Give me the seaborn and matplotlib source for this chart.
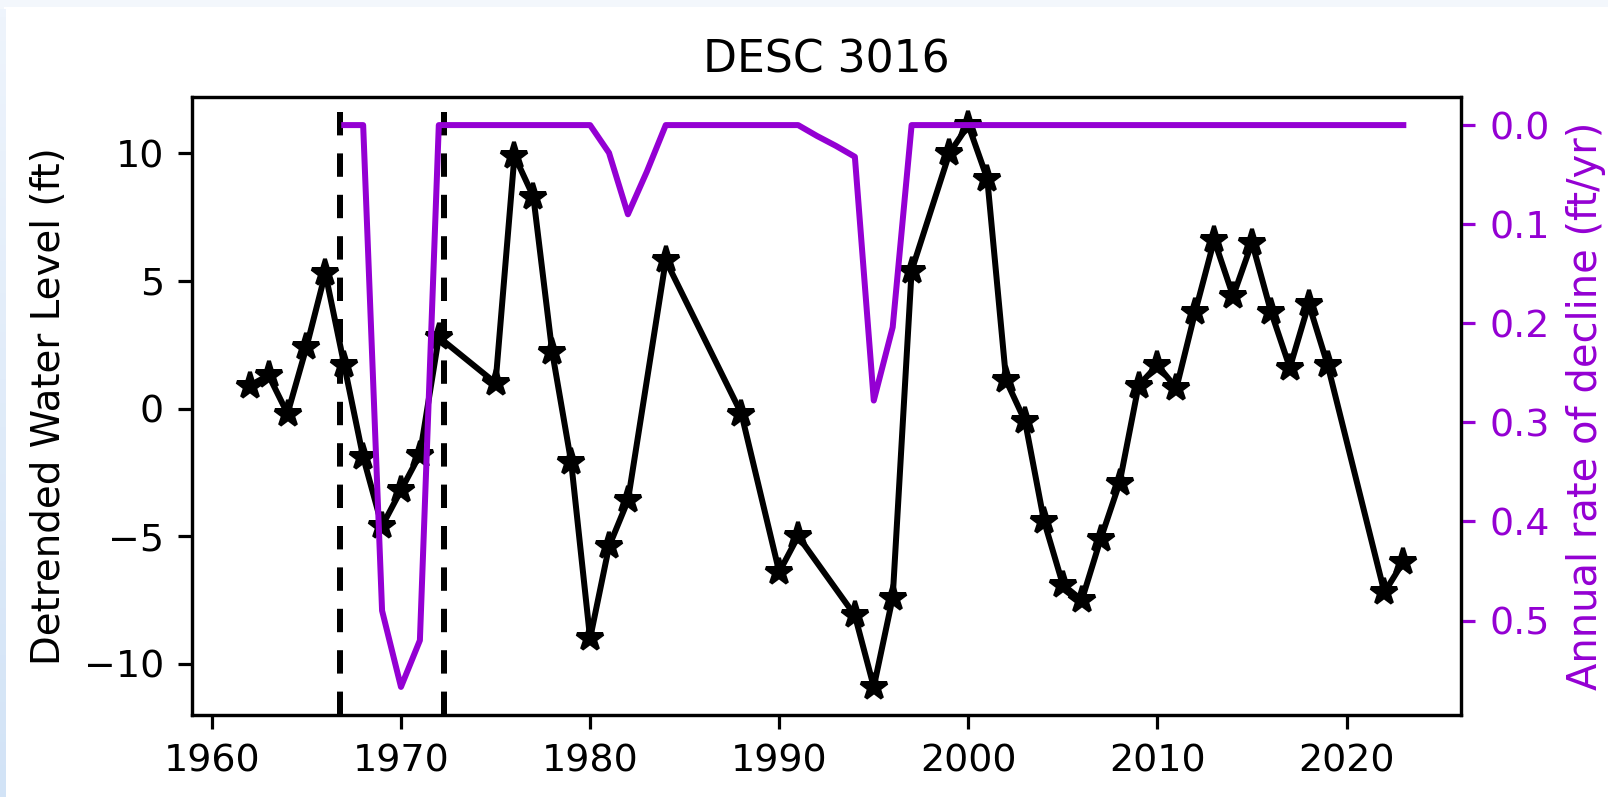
import matplotlib
matplotlib.use("Agg")
import matplotlib.pyplot as plt
import numpy as np
import pandas as pd
import seaborn as sns
from matplotlib.patches import Rectangle

# Detrended water level observations (black stars)
years = [1962, 1963, 1964, 1965, 1966, 1967, 1968, 1969, 1970, 1971, 1972,
         1975, 1976, 1977, 1978, 1979, 1980, 1981, 1982, 1984, 1988, 1990,
         1991, 1994, 1995, 1996, 1997, 1999, 2000, 2001, 2002, 2003, 2004,
         2005, 2006, 2007, 2008, 2009, 2010, 2011, 2012, 2013, 2014, 2015,
         2016, 2017, 2018, 2019, 2022, 2023]
levels = [0.9, 1.3, -0.2, 2.4, 5.3, 1.7, -1.9, -4.6, -3.2, -1.8, 2.8,
          1.0, 9.9, 8.3, 2.2, -2.1, -9.0, -5.4, -3.6, 5.8, -0.2, -6.4,
          -5.0, -8.1, -10.9, -7.4, 5.4, 10.0, 11.1, 9.0, 1.1, -0.5, -4.4,
          -6.9, -7.5, -5.1, -2.9, 0.9, 1.7, 0.8, 3.8, 6.6, 4.4, 6.5,
          3.8, 1.6, 4.1, 1.7, -7.2, -6.0]

# Annual rate of decline (purple line, right axis)
rate_years = list(range(1967, 2024))
rate = ([0.0, 0.0, 0.49, 0.567, 0.52]
        + [0.0] * 9
        + [0.028, 0.09, 0.047]
        + [0.0] * 8
        + [0.011, 0.021, 0.032, 0.278, 0.204]
        + [0.0] * 27)

drought_bounds = [1966.8, 1972.25]

obs = pd.DataFrame({"year": years, "level": levels})
decl = pd.DataFrame({"year": rate_years, "rate": rate})

plt.rcParams["font.family"] = "DejaVu Sans"
plt.rcParams["font.size"] = 10
plt.rcParams["xtick.labelsize"] = 9.5
plt.rcParams["ytick.labelsize"] = 9.5

fig = plt.figure(figsize=(1608 / 288, 797 / 288), dpi=288)
fig.patch.set_facecolor("#f3f7fc")
fig.add_artist(Rectangle((6 / 1608, 0), 1, 1 - 9 / 797,
                         transform=fig.transFigure, color="white", zorder=-2))
# left strip of the screenshot frame
strip = fig.add_axes([0, 0, 6 / 1608, 1 - 9 / 797], zorder=-1)
grad = np.linspace(0, 1, 100).reshape(-1, 1)
strip.imshow(grad, aspect="auto", cmap=matplotlib.colors.LinearSegmentedColormap.from_list(
    "frame", ["#eef4fc", "#d2e3f6"]))
strip.axis("off")

ax = fig.add_axes([192 / 1608, 1 - 715 / 797, (1461 - 192) / 1608, (715 - 97) / 797])

for xb in drought_bounds:
    ax.axvline(xb, color="black", linestyle=(0, (3.9, 3.0)), linewidth=1.5)

sns.lineplot(data=obs, x="year", y="level", ax=ax, color="black",
             marker="*", markersize=7, markeredgecolor="black",
             markeredgewidth=1.0, linewidth=1.5)
ax.set_xlabel("")
ax.set_ylabel("Detrended Water Level (ft)", fontsize=9.7)
ax.set_title("DESC 3016", fontsize=11)

ax2 = ax.twinx()
sns.lineplot(data=decl, x="year", y="rate", ax=ax2, color="darkviolet",
             linewidth=1.5)
ax2.invert_yaxis()
ax2.set_xlabel("")
ax2.set_ylabel("Annual rate of decline (ft/yr)", color="darkviolet")
ax2.tick_params(axis="y", colors="darkviolet")
ax2.set_yticks([0.0, 0.1, 0.2, 0.3, 0.4, 0.5])

for a in (ax, ax2):
    for sp in a.spines.values():
        sp.set_color("black")

fig.savefig("out.png", dpi=288, facecolor=fig.get_facecolor())
